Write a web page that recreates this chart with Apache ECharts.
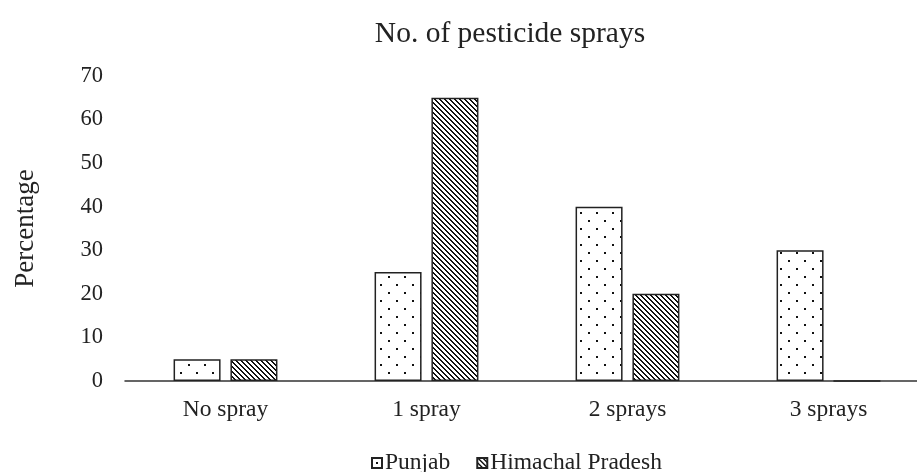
<!DOCTYPE html>
<html>
<head>
<meta charset="utf-8">
<script src="https://cdn.jsdelivr.net/npm/echarts@6/dist/echarts.min.js"></script>
<style>
  html, body { margin: 0; padding: 0; background: #fff; }
  #chart { width: 917px; height: 472px; }
</style>
</head>
<body>
<div id="chart"></div>
<script>
const categories = ['No spray', '1 spray', '2 sprays', '3 sprays']
const punjab = [5, 25, 40, 30]
const himachal = [5, 65, 20, 0]
const yTicks = [0, 10, 20, 30, 40, 50, 60, 70]

const FONT = '"Liberation Serif", "Times New Roman", serif'

// dotted fill for Punjab
function dotPattern() {
  const c = document.createElement('canvas')
  c.width = 16
  c.height = 16
  const ctx = c.getContext('2d')
  ctx.fillStyle = '#fff'
  ctx.fillRect(0, 0, 16, 16)
  ctx.fillStyle = '#111'
  ctx.fillRect(4, 4, 2, 2)
  ctx.fillRect(12, 12, 2, 2)
  return c
}

// downward diagonal hatch for Himachal Pradesh
function hatchPattern() {
  const n = 5
  const c = document.createElement('canvas')
  c.width = n
  c.height = n
  const ctx = c.getContext('2d')
  ctx.fillStyle = '#fff'
  ctx.fillRect(0, 0, n, n)
  ctx.fillStyle = '#111'
  for (let x = 0; x < n; x++) {
    for (let y = 0; y < n; y++) {
      const d = ((x - y) % n + n) % n
      if (d === 0 || d === 1) ctx.fillRect(x, y, 1, 1)
    }
  }
  return c
}

const chart = echarts.init(document.getElementById('chart'), null, { renderer: 'canvas' })

chart.setOption({
  backgroundColor: '#fff',
  animation: false,
  textStyle: { fontFamily: FONT, color: '#222' },
  title: {
    text: 'No. of pesticide sprays',
    left: 505,
    textAlign: 'center',
    top: 14,
    textStyle: { fontFamily: FONT, fontSize: 29.5, fontWeight: 'normal', color: '#222' }
  },
  legend: {
    top: 446,
    left: 366,
    itemWidth: 10,
    itemHeight: 10,
    itemGap: 26,
    icon: 'rect',
    textStyle: { fontFamily: FONT, fontSize: 23.5, color: '#222', padding: [0, 0, 0, -2] },
    data: ['Punjab', 'Himachal Pradesh']
  },
  grid: {
    left: 125,
    width: 804,
    top: 76,
    bottom: 91,
    containLabel: false,
    outerBoundsMode: 'none'
  },
  xAxis: {
    type: 'category',
    data: categories,
    axisLine: { lineStyle: { color: '#333', width: 1.5 } },
    axisTick: { show: false },
    axisLabel: { fontFamily: FONT, fontSize: 23.5, color: '#222', margin: 17 }
  },
  yAxis: {
    type: 'value',
    min: yTicks[0],
    max: yTicks[yTicks.length - 1],
    interval: 10,
    name: 'Percentage',
    nameLocation: 'middle',
    nameGap: 86,
    nameTextStyle: { fontFamily: FONT, fontSize: 27, color: '#222' },
    axisLine: { show: false },
    axisTick: { show: false },
    splitLine: { show: false },
    axisLabel: { fontFamily: FONT, fontSize: 22.5, color: '#222', margin: 22 }
  },
  series: [
    {
      name: 'Punjab',
      type: 'bar',
      data: punjab,
      barWidth: 47,
      barGap: '21%',
      itemStyle: {
        color: { image: dotPattern(), repeat: 'repeat' },
        borderColor: '#222',
        borderWidth: 1.5
      }
    },
    {
      name: 'Himachal Pradesh',
      type: 'bar',
      data: himachal,
      barWidth: 47,
      itemStyle: {
        color: { image: hatchPattern(), repeat: 'repeat' },
        borderColor: '#222',
        borderWidth: 1.5
      }
    }
  ]
})
</script>
</body>
</html>
